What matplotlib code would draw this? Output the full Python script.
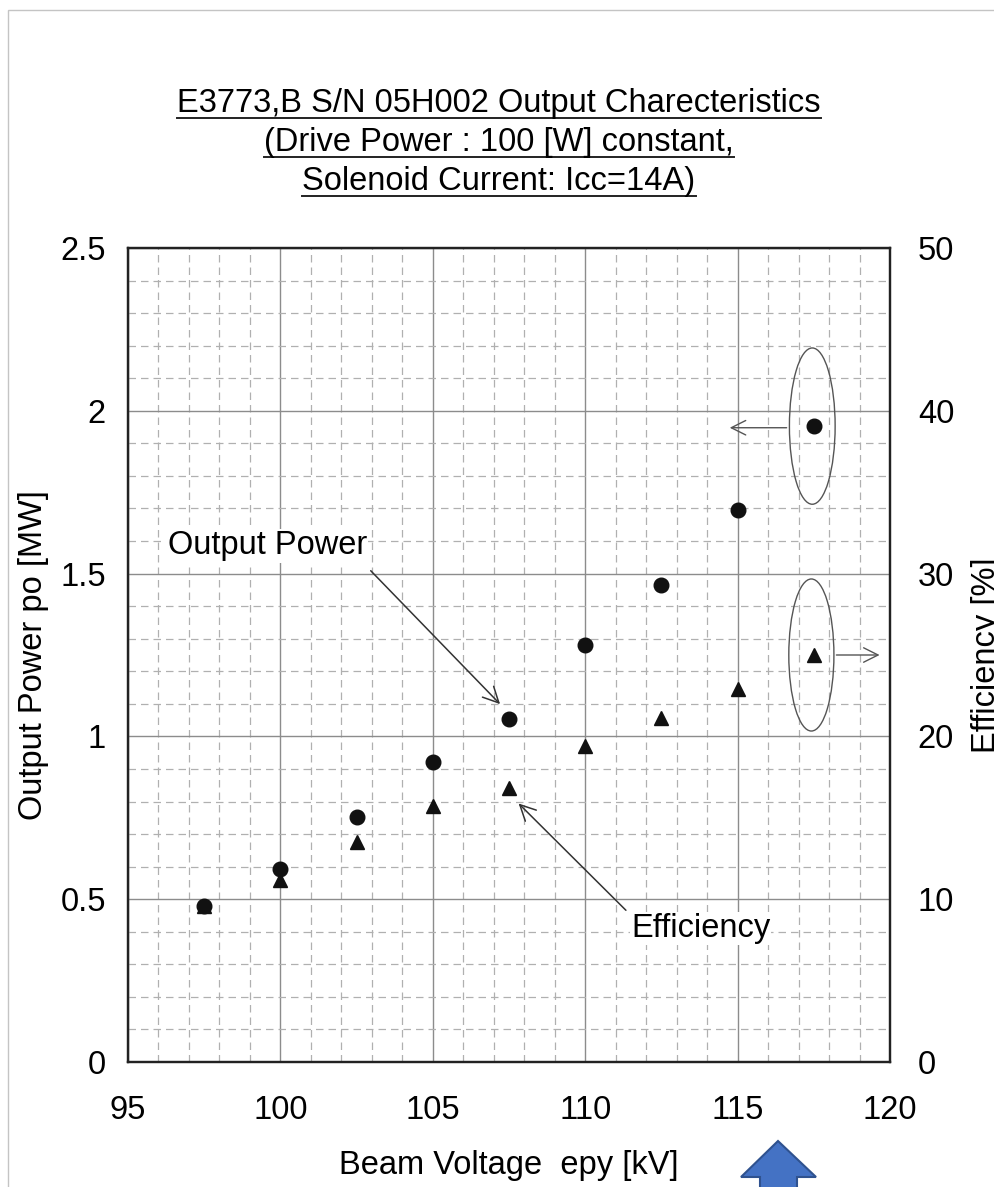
import matplotlib
matplotlib.use("Agg")
import matplotlib.pyplot as plt
from matplotlib.patches import Ellipse, Polygon, Rectangle
from matplotlib.lines import Line2D
from matplotlib.ticker import MultipleLocator

plt.rcParams["font.family"] = ["Liberation Sans", "DejaVu Sans"]

# data
beam_kv = [97.5, 100, 102.5, 105, 107.5, 110, 112.5, 115, 117.5]
power_mw = [0.478, 0.592, 0.752, 0.920, 1.053, 1.280, 1.465, 1.695, 1.953]
eff_pct = [9.6, 11.2, 13.5, 15.7, 16.8, 19.4, 21.1, 22.9, 25.0]

title_lines = [
    "E3773,B S/N 05H002 Output Charecteristics",
    "(Drive Power : 100 [W] constant,",
    "Solenoid Current: Icc=14A)",
]

W, H = 995, 1187
fig = plt.figure(figsize=(W / 100, H / 100), dpi=100)


def fx(px):
    return px / W


def fy(py):
    return 1 - py / H


ax = fig.add_axes([fx(128), fy(1062), fx(890) - fx(128), fy(248) - fy(1062)])
ax2 = ax.twinx()

FS = 23.5
ax.set_xlim(95, 120)
ax.set_ylim(0, 2.5)
ax2.set_ylim(0, 50)
ax.xaxis.set_major_locator(MultipleLocator(5))
ax.xaxis.set_minor_locator(MultipleLocator(1))
ax.yaxis.set_major_locator(MultipleLocator(0.5))
ax.yaxis.set_minor_locator(MultipleLocator(0.1))
ax2.yaxis.set_major_locator(MultipleLocator(10))
ax.set_yticks([0, 0.5, 1, 1.5, 2, 2.5], ["0", "0.5", "1", "1.5", "2", "2.5"])

ax.grid(which="major", color="#8c8c8c", lw=1.0, ls="-")
ax.grid(which="minor", color="#b0b0b0", lw=0.9, ls=(0, (6, 4)))
ax.set_axisbelow(True)
ax.tick_params(which="both", length=0)
ax.tick_params(axis="x", labelsize=FS, pad=24)
ax.tick_params(axis="y", labelsize=FS, pad=16)
ax2.tick_params(length=0, labelsize=FS, pad=20)
for sp in list(ax.spines.values()) + list(ax2.spines.values()):
    sp.set_linewidth(1.6)
    sp.set_color("#222222")

ax.set_xlabel("Beam Voltage  epy [kV]", fontsize=FS, labelpad=17)
ax.set_ylabel("Output Power po [MW]", fontsize=FS, labelpad=8)
ax2.set_ylabel("Efficiency [%]", fontsize=FS, labelpad=12)

ax.plot(beam_kv, power_mw, "o", color="#111111", ms=10.5, zorder=5)
ax2.plot(beam_kv, eff_pct, "^", color="#111111", ms=10.5, zorder=5)

# annotations
arrow = dict(arrowstyle="->", color="#333333", lw=1.1, mutation_scale=28)
ax.text(96.3, 1.585, "Output Power", fontsize=FS, va="center", ha="left",
        bbox=dict(fc="white", ec="none", pad=1))
ax.annotate("", xy=(beam_kv[4] - 0.23, power_mw[4] + 0.04), xytext=(102.9, 1.515),
            arrowprops=arrow)
ax.text(111.5, 0.41, "Efficiency", fontsize=FS, va="center", ha="left",
        bbox=dict(fc="white", ec="none", pad=1))
ax.annotate("", xy=(beam_kv[4] + 0.25, eff_pct[4] / 20 - 0.04), xytext=(111.4, 0.46),
            arrowprops=arrow)

ax.add_patch(Ellipse((beam_kv[-1] - 0.05, power_mw[-1]), 1.5, 0.48,
                     fill=False, ec="#555555", lw=1.0, zorder=4))
ax.add_patch(Ellipse((beam_kv[-1] - 0.08, eff_pct[-1] / 20), 1.48, 0.467,
                     fill=False, ec="#555555", lw=1.0, zorder=4))
ax.annotate("", xy=(114.65, power_mw[-1] - 0.005), xytext=(116.7, power_mw[-1] - 0.005),
            arrowprops=dict(arrowstyle="->", color="#555555", lw=1.0, mutation_scale=26))
ax.annotate("", xy=(119.75, eff_pct[-1] / 20), xytext=(118.15, eff_pct[-1] / 20),
            arrowprops=dict(arrowstyle="->", color="#555555", lw=1.0, mutation_scale=26),
            annotation_clip=False)

# title with underlines
baselines = [112, 151, 190]
texts = [fig.text(fx(499), fy(b), s, fontsize=FS, ha="center", va="baseline")
         for s, b in zip(title_lines, baselines)]
fig.canvas.draw()
r = fig.canvas.get_renderer()
for t in texts:
    bb = t.get_window_extent(r)
    y = bb.y0 + 1
    fig.add_artist(Line2D([bb.x0 / W, bb.x1 / W], [y / H, y / H],
                          color="#222222", lw=1.4))

# page border of the scan
fig.add_artist(Rectangle((fx(8), fy(1300)), 2, fy(10) - fy(1300), fill=False,
                         ec="#c4c4c4", lw=1.0, transform=fig.transFigure))

# blue callout arrow at the bottom
pts = [(778, 1141), (741, 1177), (760, 1177), (760, 1195),
       (797, 1195), (797, 1177), (816, 1177)]
fig.add_artist(Polygon([(fx(x), fy(y)) for x, y in pts], closed=True,
                       fc="#4472c4", ec="#2f528f", lw=1.5,
                       transform=fig.transFigure))

fig.savefig("out.png", dpi=100, facecolor="white")
